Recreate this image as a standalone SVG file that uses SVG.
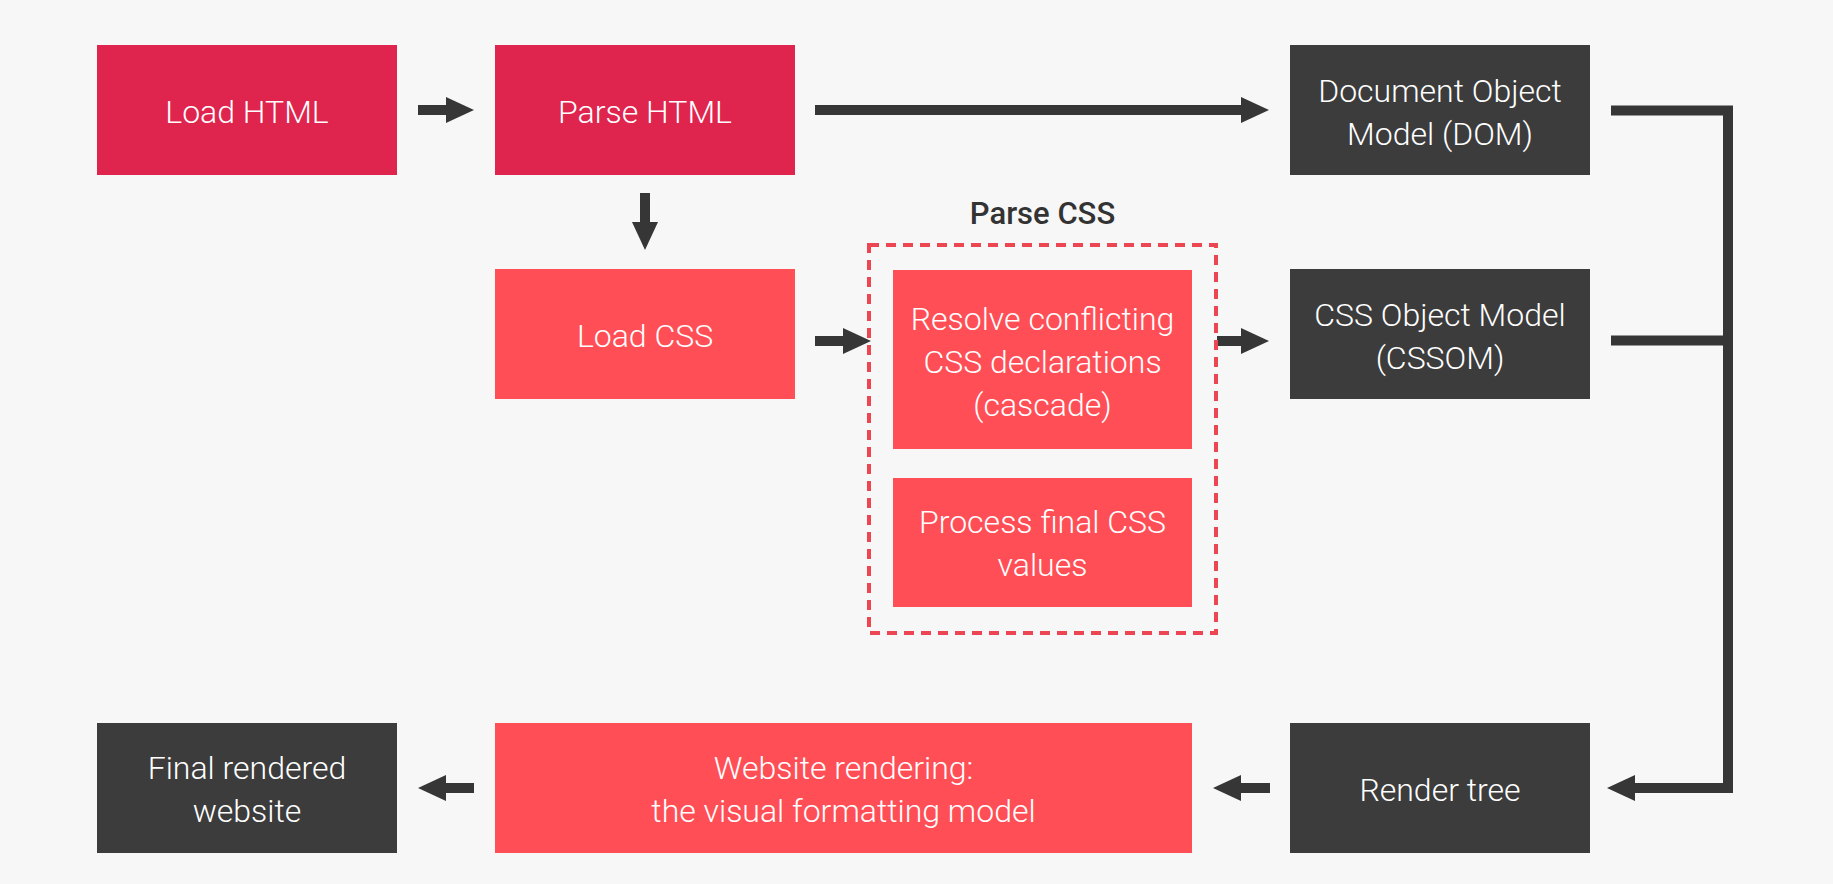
<svg xmlns="http://www.w3.org/2000/svg" width="1833" height="884" viewBox="0 0 1833 884">
<style>
.bg{fill:#F7F7F7}
.dred{fill:#DF244E}
.lred{fill:#FF4E56}
.dark{fill:#3C3C3C}
.t{font-family:"Roboto Light",Roboto,"Liberation Sans",sans-serif;font-weight:300;font-size:32px;fill:#FFFFFF;text-anchor:middle}
.title{font-family:Roboto,"Liberation Sans",sans-serif;font-weight:500;font-size:31px;fill:#333333;text-anchor:middle}
.c{fill:none;stroke:#363636;stroke-width:10;stroke-linejoin:miter}
.dash{fill:none;stroke:#EC4652;stroke-width:4;stroke-dasharray:10 7}
</style>
<defs>
<marker id="ah" markerUnits="userSpaceOnUse" markerWidth="28" markerHeight="26" refX="0" refY="13" orient="auto" viewBox="0 0 28 26">
<path d="M0,0 L28,13 L0,26 z" fill="#363636"/>
</marker>
</defs>
<rect class="bg" x="0" y="0" width="1833" height="884"/>

<g id="connectors">
<path class="c" d="M418 110 H446" marker-end="url(#ah)"/>
<path class="c" d="M815 110 H1241" marker-end="url(#ah)"/>
<path class="c" d="M645 193 V222" marker-end="url(#ah)"/>
<path class="c" d="M815 341 H843" marker-end="url(#ah)"/>
<path class="c" d="M1217 341 H1241" marker-end="url(#ah)"/>
<path class="c" d="M1611 110.5 H1728 V788 H1635" marker-end="url(#ah)"/>
<path class="c" d="M1611 340.5 H1728"/>
<path class="c" d="M1270 788 H1241" marker-end="url(#ah)"/>
<path class="c" d="M474 788 H446" marker-end="url(#ah)"/>
</g>

<g id="load-html">
<rect class="dred" x="97" y="45" width="300" height="130"/>
<text class="t" x="247" y="122.5">Load HTML</text>
</g>

<g id="parse-html">
<rect class="dred" x="495" y="45" width="300" height="130"/>
<text class="t" x="645" y="122.5">Parse HTML</text>
</g>

<g id="dom">
<rect class="dark" x="1290" y="45" width="300" height="130"/>
<text class="t" x="1440" y="102">Document Object</text>
<text class="t" x="1440" y="145">Model (DOM)</text>
</g>

<g id="load-css">
<rect class="lred" x="495" y="269" width="300" height="130"/>
<text class="t" x="645" y="347">Load CSS</text>
</g>

<g id="parse-css">
<rect class="dash" x="869" y="245" width="347" height="388"/>
<text class="title" x="1042.5" y="223.5">Parse CSS</text>
</g>

<g id="resolve">
<rect class="lred" x="893" y="270" width="299" height="179"/>
<text class="t" x="1042.5" y="330">Resolve conflicting</text>
<text class="t" x="1042.5" y="373">CSS declarations</text>
<text class="t" x="1042.5" y="416">(cascade)</text>
</g>

<g id="process">
<rect class="lred" x="893" y="478" width="299" height="129"/>
<text class="t" x="1042.5" y="533">Process final CSS</text>
<text class="t" x="1042.5" y="576">values</text>
</g>

<g id="cssom">
<rect class="dark" x="1290" y="269" width="300" height="130"/>
<text class="t" x="1440" y="326">CSS Object Model</text>
<text class="t" x="1440" y="369">(CSSOM)</text>
</g>

<g id="final">
<rect class="dark" x="97" y="723" width="300" height="130"/>
<text class="t" x="247" y="779">Final rendered</text>
<text class="t" x="247" y="822">website</text>
</g>

<g id="website-rendering">
<rect class="lred" x="495" y="723" width="697" height="130"/>
<text class="t" x="843.5" y="779">Website rendering:</text>
<text class="t" x="843.5" y="822">the visual formatting model</text>
</g>

<g id="render-tree">
<rect class="dark" x="1290" y="723" width="300" height="130"/>
<text class="t" x="1440" y="801">Render tree</text>
</g>
</svg>
